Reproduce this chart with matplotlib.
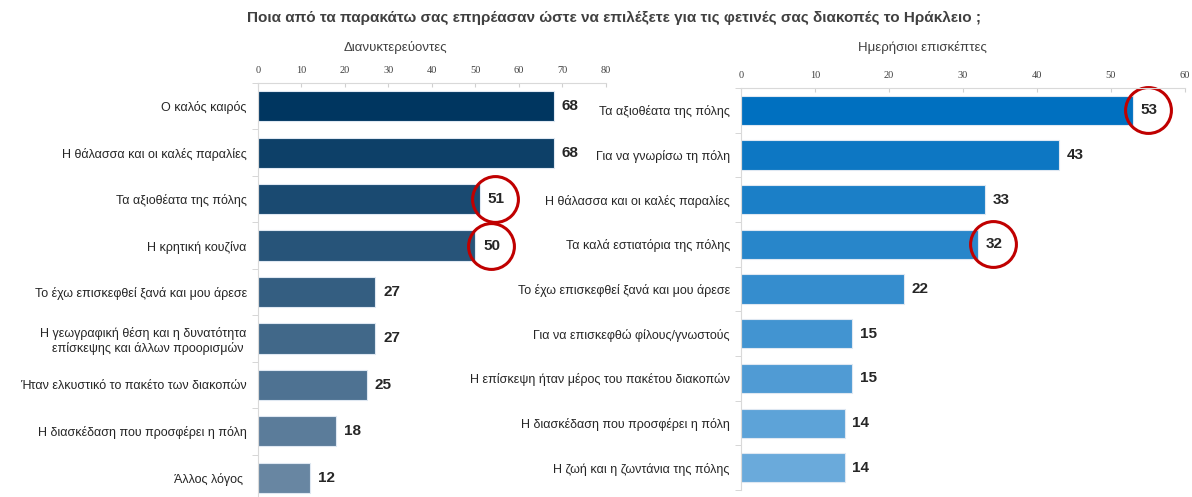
import numpy as np
import matplotlib.pyplot as plt
from matplotlib import transforms

plt.rcParams['font.family'] = ['Liberation Sans', 'DejaVu Sans']

title = "Ποια από τα παρακάτω σας επηρέασαν ώστε να επιλέξετε για τις φετινές σας διακοπές το Ηράκλειο ;"

left_title = "Διανυκτερεύοντες"
left_labels = ["Ο καλός καιρός", "Η θάλασσα και οι καλές παραλίες", "Τα αξιοθέατα της πόλης",
               "Η κρητική κουζίνα", "Το έχω επισκεφθεί ξανά και μου άρεσε",
               "Η γεωγραφική θέση και η δυνατότητα\nεπίσκεψης και άλλων προορισμών ",
               "Ήταν ελκυστικό το πακέτο των διακοπών", "Η διασκέδαση που προσφέρει η πόλη",
               "Άλλος λόγος "]
left_values = [68, 68, 51, 50, 27, 27, 25, 18, 12]
left_circled = [2, 3]

right_title = "Ημερήσιοι επισκέπτες"
right_labels = ["Τα αξιοθέατα της πόλης", "Για να γνωρίσω τη πόλη", "Η θάλασσα και οι καλές παραλίες",
                "Τα καλά εστιατόρια της πόλης", "Το έχω επισκεφθεί ξανά και μου άρεσε",
                "Για να επισκεφθώ φίλους/γνωστούς", "Η επίσκεψη ήταν μέρος του πακέτου διακοπών",
                "Η διασκέδαση που προσφέρει η πόλη", "Η ζωή και η ζωντάνια της πόλης"]
right_values = [53, 43, 33, 32, 22, 15, 15, 14, 14]
right_circled = [0, 3]


def blend(c1, c2, n):
   c1 = np.array(plt.matplotlib.colors.to_rgb(c1))
   c2 = np.array(plt.matplotlib.colors.to_rgb(c2))
   return [tuple(c1 + (c2 - c1) * t) for t in np.linspace(0, 1, n)]


def panel(fig, rect, labels, values, circled, xmax, colors, head, head_x):
   ax = fig.add_axes(rect)
   y = np.arange(len(values))
   ax.barh(y, values, height=0.65, color=colors, edgecolor='#dfe8f2', linewidth=0.8)
   ax.set_ylim(len(values) - 0.5, -0.5)
   ax.set_xlim(0, xmax)
   ax.set_xticks(np.arange(0, xmax + 1, 10))
   ax.xaxis.tick_top()
   ax.tick_params(axis='x', direction='in', length=3, color='#d0d0d0', labelsize=7.5,
                  labelcolor='#404040', pad=6)
   for t in ax.get_xticklabels():
      t.set_family('Liberation Serif')
   ax.set_yticks(y)
   ax.set_yticklabels(labels, fontsize=9, color='#262626')
   ax.tick_params(axis='y', length=0, pad=8)
   ax.set_yticks(np.arange(len(values) + 1) - 0.5, minor=True)
   ax.tick_params(axis='y', which='minor', length=4, color='#d0d0d0')
   for s in ['right', 'bottom']:
      ax.spines[s].set_visible(False)
   for s in ['top', 'left']:
      ax.spines[s].set_color('#d9d9d9')
   for i, v in enumerate(values):
      ax.annotate(str(v), (v, i), xytext=(5.5, 0), textcoords='offset points',
                  ha='left', va='center', fontsize=11, fontweight='bold', color='#262626')
   shift = transforms.offset_copy(ax.transData, fig=fig, x=11, y=0, units='points')
   for i in circled:
      ax.plot(values[i], i, marker='o', markersize=33, markerfacecolor='none',
              markeredgecolor='#c00000', markeredgewidth=2.2, transform=shift, clip_on=False)
   fig.text(head_x, 0.905, head, ha='center', va='center', fontsize=9.5, color='#404040')
   return ax


fig = plt.figure(figsize=(11.92, 4.97), dpi=100)
fig.text(0.515, 0.963, title, ha='center', va='center', fontsize=11,
         fontweight='bold', color='#404040')

panel(fig, [0.2164, -0.008, 0.2919, 0.841], left_labels, left_values, left_circled, 80,
      blend('#003660', '#6886a2', len(left_values)), left_title, 0.332)
panel(fig, [0.6216, 0.014, 0.3725, 0.809], right_labels, right_values, right_circled, 60,
      blend('#0070c0', '#6aaadb', len(right_values)), right_title, 0.774)

fig.savefig('out.png', dpi=100)
